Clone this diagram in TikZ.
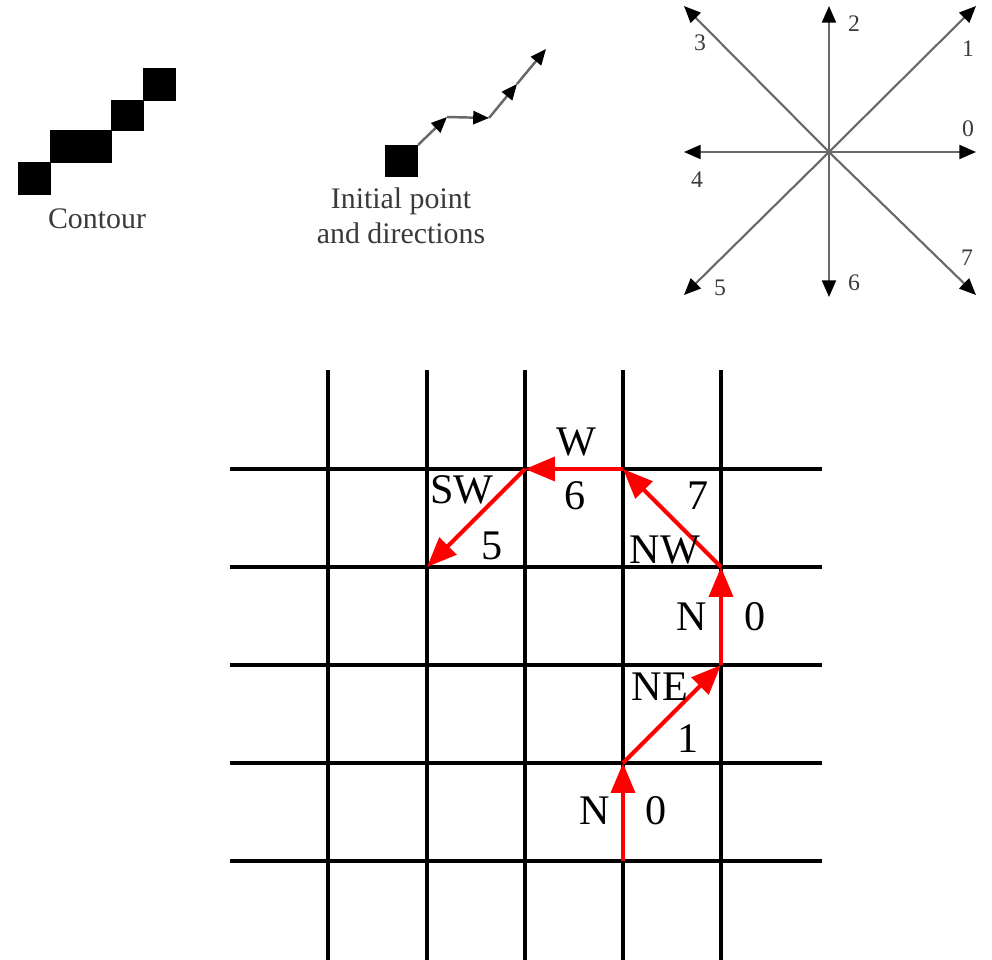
\documentclass[tikz,border=0pt]{standalone}
\usepackage{fontspec}
\setmainfont{Liberation Serif}
\usetikzlibrary{arrows.meta}
\definecolor{txtgray}{HTML}{3A3A3A}
\definecolor{linegray}{HTML}{686868}
\tikzset{
  gridline/.style={line width=2.8pt, black},
  redarrow/.style={line width=2.4pt, red, -{Triangle[length=17pt,width=13.5pt]}},
  comparrow/.style={line width=1.2pt, linegray, -{Triangle[length=9.5pt,width=8pt,color=black,fill=black]}},
  steparrow/.style={line width=1.4pt, linegray, -{Triangle[length=9pt,width=7.5pt,color=black,fill=black]}},
  gridlabel/.style={inner sep=0pt, font=\fontsize{24}{28}\selectfont},
  complabel/.style={inner sep=0pt, text=txtgray, font=\fontsize{13.5}{15}\selectfont},
  caption/.style={inner sep=0pt, text=txtgray, font=\fontsize{17}{19.5}\selectfont, align=center},
  blk/.style={fill=black}
}
\begin{document}
\begin{tikzpicture}[x=0.02cm, y=-0.02cm]
\useasboundingbox (0,0) rectangle (992,960);
% ---------- Contour ----------
\fill[blk] (18,162) rectangle (51,195);
\fill[blk] (50,130) rectangle (112,163);
\fill[blk] (111,100) rectangle (144,131);
\fill[blk] (143,68) rectangle (176,101);
\node[caption, anchor=base] (contour) at (97,228) {Contour};
% ---------- Initial point and directions ----------
\fill[blk] (385,145) rectangle (418,177);
\coordinate (p0) at (418,145);
\coordinate (p1) at (447,117);
\coordinate (p2) at (489,118);
\coordinate (p3) at (517,84);
\coordinate (p4) at (546,49);
\draw[steparrow] (p0) -- (p1);
\draw[steparrow] (p1) -- (p2);
\draw[steparrow] (p2) -- (p3);
\draw[steparrow] (p3) -- (p4);
\node[caption, anchor=base] (init) at (401,243) {Initial point\\and directions};
% ---------- Compass of 8 directions ----------
\coordinate (c) at (829,152);
\coordinate (d0) at (976,152);
\coordinate (d1) at (976,6);
\coordinate (d2) at (829,6);
\coordinate (d3) at (684,6);
\coordinate (d4) at (684,152);
\coordinate (d5) at (684,295);
\coordinate (d6) at (829,297);
\coordinate (d7) at (976,295);
\foreach \i in {0,...,7} {\draw[comparrow] (c) -- (d\i);}
\node[complabel] (l0) at (968,129) {0};
\node[complabel] (l1) at (968,49) {1};
\node[complabel] (l2) at (854,24) {2};
\node[complabel] (l3) at (700,43) {3};
\node[complabel] (l4) at (697,180) {4};
\node[complabel] (l5) at (720,288) {5};
\node[complabel] (l6) at (854,283) {6};
\node[complabel] (l7) at (967,258) {7};
% ---------- Grid ----------
\foreach \x [count=\i] in {328,427,525,623,721} {
  \coordinate (vt\i) at (\x,370);
  \coordinate (vb\i) at (\x,960);
  \draw[gridline] (vt\i) -- (vb\i);
}
\foreach \y [count=\j] in {469,567,665,763,861} {
  \coordinate (hl\j) at (230,\y);
  \coordinate (hr\j) at (822,\y);
  \draw[gridline] (hl\j) -- (hr\j);
}
% ---------- Chain code path ----------
\coordinate (s0) at (623,861);
\coordinate (s1) at (623,763);
\coordinate (s2) at (721,665);
\coordinate (s3) at (721,567);
\coordinate (s4) at (623,469);
\coordinate (s5) at (525,469);
\coordinate (s6) at (427,567);
\draw[redarrow] (s0) -- (s1);
\draw[redarrow] (s1) -- (s2);
\draw[redarrow] (s2) -- (s3);
\draw[redarrow] (s3) -- (s4);
\draw[redarrow] (s4) -- (s5);
\draw[redarrow] (s5) -- (s6);
% ---------- Labels ----------
\node[gridlabel] (tN1) at (595,811) {N};
\node[gridlabel] (tZ1) at (656,811) {0};
\node[gridlabel] (tNE) at (660,687) {NE};
\node[gridlabel] (tOne) at (688,739) {1};
\node[gridlabel] (tN2) at (692,617) {N};
\node[gridlabel] (tZ2) at (755,617) {0};
\node[gridlabel] (tNW) at (665,550) {NW};
\node[gridlabel] (tSeven) at (698,496) {7};
\node[gridlabel] (tW) at (576,442) {W};
\node[gridlabel] (tSix) at (575,496) {6};
\node[gridlabel] (tSW) at (462,490) {SW};
\node[gridlabel] (tFive) at (492,546) {5};
\end{tikzpicture}
\end{document}
